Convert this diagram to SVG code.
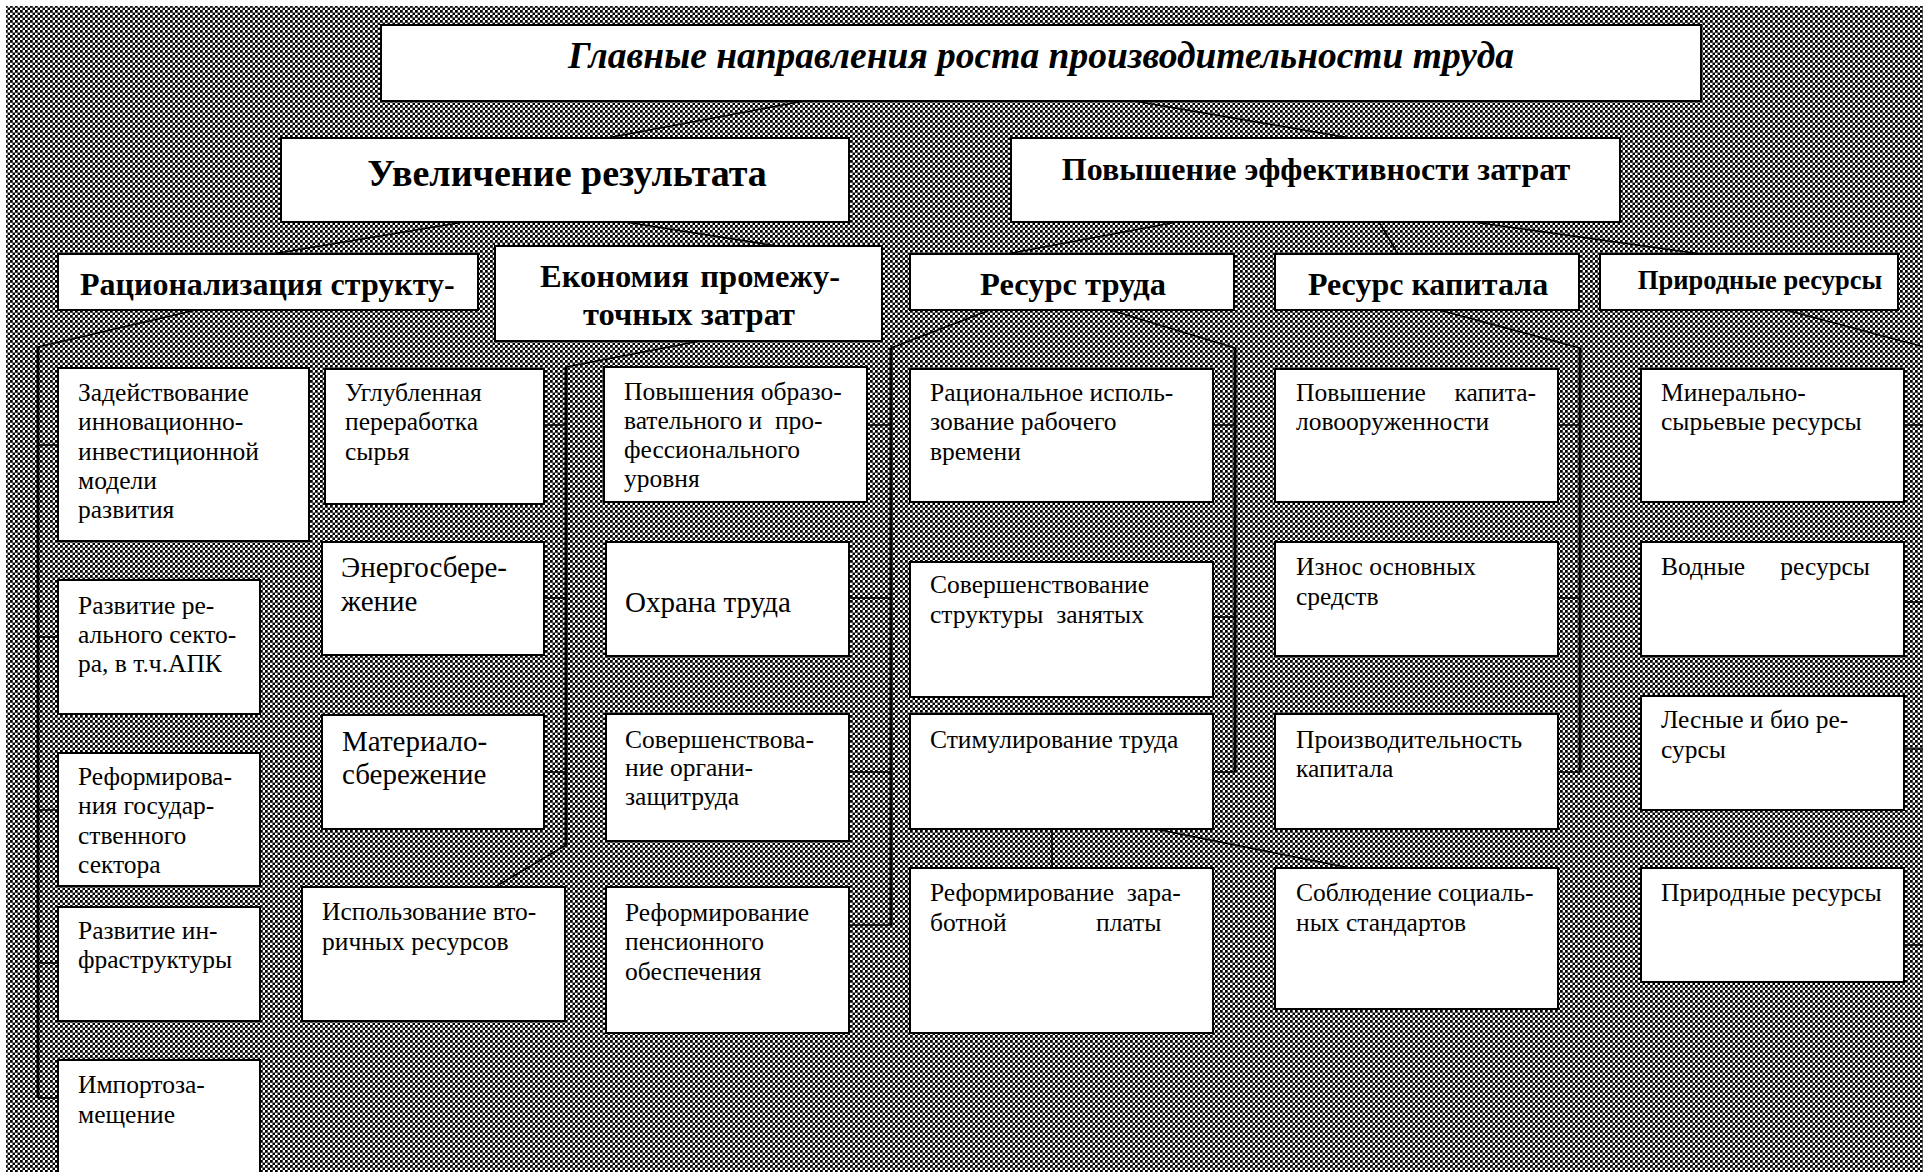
<svg xmlns="http://www.w3.org/2000/svg" width="1923" height="1172" viewBox="0 0 1923 1172">
<defs>
<pattern id="chk" width="5" height="5" patternUnits="userSpaceOnUse">
<rect width="5" height="5" fill="#fff"/>
<rect x="0" y="0" width="2.75" height="2.75" fill="#000"/>
<rect x="2.5" y="2.5" width="2.75" height="2.75" fill="#000"/>
</pattern>
</defs>
<style>
.box{fill:#fff;stroke:#000;stroke-width:2}
.t{font-family:"Liberation Serif","Times New Roman",serif;font-size:25.5px;fill:#000}
.m{font-size:29px}
.b{font-weight:bold}
.ti{font-size:37.5px;font-style:italic}
.s38{font-size:38px}
.s32{font-size:32px}
.s325{font-size:32.5px}
.s26{font-size:26.5px}
.mid{text-anchor:middle}
.end{text-anchor:end}
.c{stroke:#000;stroke-width:1.6;fill:none}
.bus{stroke:#000;stroke-width:3;fill:none}
</style>
<rect width="1923" height="1172" fill="#fff"/>
<rect x="6" y="6" width="1917" height="1166" fill="url(#chk)"/>

<g id="connectors">
<line class="c" x1="804" y1="101" x2="607" y2="138"/>
<line class="c" x1="1134" y1="101" x2="1350" y2="138"/>
<line class="c" x1="464" y1="222" x2="272" y2="254"/>
<line class="c" x1="625" y1="222" x2="784" y2="247"/>
<line class="c" x1="1177" y1="222" x2="1007" y2="254"/>
<line class="c" x1="1379" y1="222" x2="1398" y2="254"/>
<line class="c" x1="1473" y1="222" x2="1701" y2="254"/>
<line class="c" x1="196" y1="310" x2="38" y2="347"/>
<path class="bus" d="M38 347V1098"/>
<path class="c" d="M38 445H58M38 637H58M38 810H58M38 963H58M38 1098H58"/>
<line class="c" x1="700" y1="341" x2="566" y2="367"/>
<path class="bus" d="M566 367V845"/>
<line class="c" x1="566" y1="845" x2="495" y2="887"/>
<path class="c" d="M544 425H566M544 598H566M544 772H566"/>
<line class="c" x1="990" y1="310" x2="891" y2="348"/>
<path class="bus" d="M891 348V925"/>
<path class="c" d="M867 425H891M849 598H891M849 772H891M849 925H891"/>
<line class="c" x1="1110" y1="310" x2="1235" y2="348"/>
<path class="bus" d="M1235 348V772"/>
<path class="c" d="M1213 425H1235M1213 617H1235M1213 772H1235"/>
<line class="c" x1="1052" y1="829" x2="1052" y2="868"/>
<line class="c" x1="1155" y1="829" x2="1350" y2="868"/>
<line class="c" x1="1439" y1="310" x2="1580" y2="348"/>
<path class="bus" d="M1580 348V772"/>
<path class="c" d="M1558 425H1580M1558 598H1580M1558 772H1580"/>
<line class="c" x1="1786" y1="310" x2="1935" y2="350"/>
<path class="c" d="M1904 425H1923M1904 602H1923M1904 749H1923M1904 945H1923"/>
</g>

<g id="title">
<rect class="box" x="381" y="25" width="1320" height="76"/>
<text class="t b ti mid" x="1041" y="68">Главные направления роста производительности труда</text>
</g>
<g id="n-uvelichenie">
<rect class="box" x="281" y="138" width="568" height="84"/>
<text class="t b s38 mid" x="567" y="186">Увеличение результата</text>
</g>
<g id="n-povyshenie">
<rect class="box" x="1011" y="138" width="609" height="84"/>
<text class="t b s32 mid" x="1316" y="180">Повышение эффективности затрат</text>
</g>
<g id="n-racionalizaciya">
<rect class="box" x="58" y="254" width="420" height="56"/>
<text class="t b s32" x="80" y="295">Рационализация структу-</text>
</g>
<g id="n-ekonomiya">
<rect class="box" x="495" y="246" width="387" height="95"/>
<text class="t b s325"><tspan x="540" y="287">Економия</tspan><tspan class="end" x="840" y="287">промежу-</tspan><tspan class="mid" x="689" y="325">точных затрат</tspan></text>
</g>
<g id="n-resurs-truda">
<rect class="box" x="910" y="254" width="324" height="56"/>
<text class="t b s325 mid" x="1073" y="295">Ресурс труда</text>
</g>
<g id="n-resurs-kapitala">
<rect class="box" x="1275" y="254" width="304" height="56"/>
<text class="t b s32 mid" x="1428" y="295">Ресурс капитала</text>
</g>
<g id="n-prirodnye">
<rect class="box" x="1600" y="254" width="298" height="56"/>
<text class="t b s26 mid" x="1760" y="289">Природные ресурсы</text>
</g>

<g id="n-zadeystvovanie">
<rect class="box" x="58" y="368" width="251" height="173"/>
<text class="t"><tspan x="78" y="401">Задействование</tspan><tspan x="78" y="430">инновационно-</tspan><tspan x="78" y="460">инвестиционной</tspan><tspan x="78" y="489">модели</tspan><tspan x="78" y="518">развития</tspan></text>
</g>
<g id="n-razvitie-real">
<rect class="box" x="58" y="580" width="202" height="134"/>
<text class="t"><tspan x="78" y="614">Развитие ре-</tspan><tspan x="78" y="643">ального секто-</tspan><tspan x="78" y="672">ра, в т.ч.АПК</tspan></text>
</g>
<g id="n-reform-gos">
<rect class="box" x="58" y="753" width="202" height="133"/>
<text class="t"><tspan x="78" y="785">Реформирова-</tspan><tspan x="78" y="814">ния государ-</tspan><tspan x="78" y="844">ственного</tspan><tspan x="78" y="873">сектора</tspan></text>
</g>
<g id="n-infra">
<rect class="box" x="58" y="907" width="202" height="114"/>
<text class="t"><tspan x="78" y="939">Развитие ин-</tspan><tspan x="78" y="968">фраструктуры</tspan></text>
</g>
<g id="n-import">
<rect class="box" x="58" y="1060" width="202" height="130"/>
<text class="t"><tspan x="78" y="1093">Импортоза-</tspan><tspan x="78" y="1123">мещение</tspan></text>
</g>

<g id="n-uglublennaya">
<rect class="box" x="325" y="369" width="219" height="135"/>
<text class="t"><tspan x="345" y="401">Углубленная</tspan><tspan x="345" y="430">переработка</tspan><tspan x="345" y="460">сырья</tspan></text>
</g>
<g id="n-energo">
<rect class="box" x="322" y="542" width="222" height="113"/>
<text class="t m"><tspan x="341" y="577">Энергосбере-</tspan><tspan x="341" y="611">жение</tspan></text>
</g>
<g id="n-material">
<rect class="box" x="322" y="715" width="222" height="114"/>
<text class="t m"><tspan x="342" y="751">Материало-</tspan><tspan x="342" y="784">сбережение</tspan></text>
</g>
<g id="n-vtorichnye">
<rect class="box" x="302" y="887" width="263" height="134"/>
<text class="t"><tspan x="322" y="920">Использование вто-</tspan><tspan x="322" y="950">ричных ресурсов</tspan></text>
</g>

<g id="n-obrazovanie">
<rect class="box" x="604" y="367" width="263" height="135"/>
<text class="t"><tspan x="624" y="400">Повышения образо-</tspan><tspan x="624" y="429" xml:space="preserve">вательного и  про-</tspan><tspan x="624" y="458">фессионального</tspan><tspan x="624" y="487">уровня</tspan></text>
</g>
<g id="n-ohrana">
<rect class="box" x="606" y="542" width="243" height="114"/>
<text class="t m" x="625" y="612">Охрана труда</text>
</g>
<g id="n-organizaciya">
<rect class="box" x="606" y="714" width="243" height="127"/>
<text class="t"><tspan x="625" y="748">Совершенствова-</tspan><tspan x="625" y="776">ние органи-</tspan><tspan x="625" y="805">защитруда</tspan></text>
</g>
<g id="n-pension">
<rect class="box" x="606" y="887" width="243" height="146"/>
<text class="t"><tspan x="625" y="921">Реформирование</tspan><tspan x="625" y="950">пенсионного</tspan><tspan x="625" y="980">обеспечения</tspan></text>
</g>

<g id="n-rabochee-vremya">
<rect class="box" x="910" y="369" width="303" height="133"/>
<text class="t"><tspan x="930" y="401">Рациональное исполь-</tspan><tspan x="930" y="430">зование рабочего</tspan><tspan x="930" y="460">времени</tspan></text>
</g>
<g id="n-struktura">
<rect class="box" x="910" y="562" width="303" height="135"/>
<text class="t"><tspan x="930" y="593">Совершенствование</tspan><tspan x="930" y="623" xml:space="preserve">структуры  занятых</tspan></text>
</g>
<g id="n-stimul">
<rect class="box" x="910" y="714" width="303" height="115"/>
<text class="t" x="930" y="748">Стимулирование труда</text>
</g>
<g id="n-zarplata">
<rect class="box" x="910" y="868" width="303" height="165"/>
<text class="t"><tspan x="930" y="901" xml:space="preserve">Реформирование  зара-</tspan><tspan x="930" y="931">ботной</tspan><tspan x="1096" y="931">платы</tspan></text>
</g>

<g id="n-kapitalovooruzh">
<rect class="box" x="1275" y="369" width="283" height="133"/>
<text class="t"><tspan x="1296" y="401">Повышение</tspan><tspan class="end" x="1536" y="401">капита-</tspan><tspan x="1296" y="430">ловооруженности</tspan></text>
</g>
<g id="n-iznos">
<rect class="box" x="1275" y="542" width="283" height="114"/>
<text class="t"><tspan x="1296" y="575">Износ основных</tspan><tspan x="1296" y="605">средств</tspan></text>
</g>
<g id="n-proizvoditelnost">
<rect class="box" x="1275" y="714" width="283" height="115"/>
<text class="t"><tspan x="1296" y="748">Производительность</tspan><tspan x="1296" y="777">капитала</tspan></text>
</g>
<g id="n-socstandarty">
<rect class="box" x="1275" y="868" width="283" height="141"/>
<text class="t"><tspan x="1296" y="901">Соблюдение социаль-</tspan><tspan x="1296" y="931">ных стандартов</tspan></text>
</g>

<g id="n-mineralnye">
<rect class="box" x="1641" y="369" width="263" height="133"/>
<text class="t"><tspan x="1661" y="401">Минерально-</tspan><tspan x="1661" y="430">сырьевые ресурсы</tspan></text>
</g>
<g id="n-vodnye">
<rect class="box" x="1641" y="542" width="263" height="114"/>
<text class="t"><tspan x="1661" y="575">Водные</tspan><tspan class="end" x="1870" y="575">ресурсы</tspan></text>
</g>
<g id="n-lesnye">
<rect class="box" x="1641" y="696" width="263" height="114"/>
<text class="t"><tspan x="1661" y="728">Лесные и био ре-</tspan><tspan x="1661" y="758">сурсы</tspan></text>
</g>
<g id="n-prirodnye2">
<rect class="box" x="1641" y="868" width="263" height="114"/>
<text class="t" x="1661" y="901">Природные ресурсы</text>
</g>
</svg>
